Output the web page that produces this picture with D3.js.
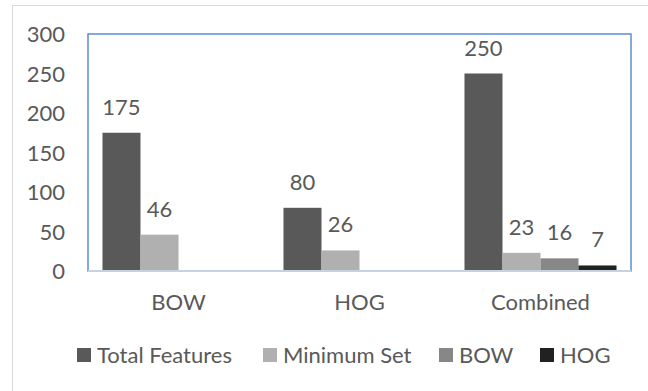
<!DOCTYPE html>
<html>
<head>
<meta charset="utf-8">
<script src="https://cdn.jsdelivr.net/npm/d3@7"></script>
<style>
  body { margin: 0; background: #fff; }
  text { font-family: Lato, "Open Sans", sans-serif; fill: #595959; }
</style>
</head>
<body>
<script>
var categories = ["BOW", "HOG", "Combined"];
var seriesNames = ["Total Features", "Minimum Set", "BOW", "HOG"];
var totalFeatures = [175, 80, 250];
var minimumSet = [46, 26, 23];
var bowValues = [0, 0, 16];
var hogValues = [0, 0, 7];
var yTicks = [0, 50, 100, 150, 200, 250, 300];
var colors = ["#595959", "#b0b0b0", "#878787", "#212121"];

var series = [totalFeatures, minimumSet, bowValues, hogValues];

var W = 648, H = 391;
var plot = {left: 88, right: 631, top: 34, bottom: 271};
var fs = "22px";

var svg = d3.select("body").append("svg")
    .attr("width", W)
    .attr("height", H);

// outer chart frame
svg.append("rect")
    .attr("x", 12.5).attr("y", 5.5)
    .attr("width", 700).attr("height", 500)
    .attr("fill", "none")
    .attr("stroke", "#d9d9d9");

var x0 = d3.scaleBand()
    .domain(categories)
    .range([plot.left, plot.right])
    .paddingInner(0.16)
    .paddingOuter(0.08);

var x1 = d3.scaleBand()
    .domain(d3.range(seriesNames.length))
    .range([0, x0.bandwidth()]);

var y = d3.scaleLinear()
    .domain([0, 300])
    .range([plot.bottom, plot.top]);

// plot border
svg.append("rect")
    .attr("x", plot.left).attr("y", plot.top)
    .attr("width", plot.right - plot.left)
    .attr("height", plot.bottom - plot.top)
    .attr("fill", "none")
    .attr("stroke", "#5b8ed3")
    .attr("stroke-width", 1.5);

// bars
var rows = [];
categories.forEach(function(c, i) {
  series.forEach(function(s, j) {
    rows.push({cat: c, s: j, v: s[i]});
  });
});

svg.selectAll("rect.bar")
    .data(rows)
    .enter().append("rect")
    .attr("class", "bar")
    .attr("x", function(d) { return x0(d.cat) + x1(d.s); })
    .attr("width", x1.bandwidth())
    .attr("y", function(d) { return y(d.v); })
    .attr("height", function(d) { return y(0) - y(d.v); })
    .attr("fill", function(d) { return colors[d.s]; });

// value labels (only non-zero)
svg.selectAll("text.val")
    .data(rows.filter(function(d) { return d.v > 0; }))
    .enter().append("text")
    .attr("class", "val")
    .attr("x", function(d) { return x0(d.cat) + x1(d.s) + x1.bandwidth() / 2; })
    .attr("y", function(d) { return y(d.v) - 18; })
    .attr("text-anchor", "middle")
    .style("font-size", fs)
    .text(function(d) { return d.v; });

// bottom axis line
svg.append("line")
    .attr("x1", plot.left).attr("x2", plot.right)
    .attr("y1", plot.bottom).attr("y2", plot.bottom)
    .attr("stroke", "#c5d2e2")
    .attr("stroke-width", 2);

// y axis
var yAxis = d3.axisLeft(y).tickValues(yTicks).tickSize(0).tickPadding(0);
var gy = svg.append("g")
    .attr("transform", "translate(65,0)")
    .call(yAxis);
gy.select(".domain").remove();
gy.selectAll("text")
    .style("font-size", fs)
    .style("font-family", "Lato, sans-serif")
    .attr("fill", "#595959")
    .attr("dy", "0.36em");

// x axis labels
var xAxis = d3.axisBottom(x0).tickSize(0).tickPadding(0);
var gx = svg.append("g")
    .attr("transform", "translate(0,310)")
    .call(xAxis);
gx.select(".domain").remove();
gx.selectAll("text")
    .style("font-size", fs)
    .style("font-family", "Lato, sans-serif")
    .attr("fill", "#595959")
    .attr("dy", 0);

// legend
var legendX = [77, 263, 439, 540];
var legend = svg.selectAll("g.leg")
    .data(seriesNames)
    .enter().append("g")
    .attr("class", "leg")
    .attr("transform", function(d, i) { return "translate(" + legendX[i] + ",348)"; });

legend.append("rect")
    .attr("width", 14).attr("height", 14)
    .attr("fill", function(d, i) { return colors[i]; });

legend.append("text")
    .attr("x", 20)
    .attr("y", 14.5)
    .style("font-size", fs)
    .text(function(d) { return d; });
</script>
</body>
</html>
